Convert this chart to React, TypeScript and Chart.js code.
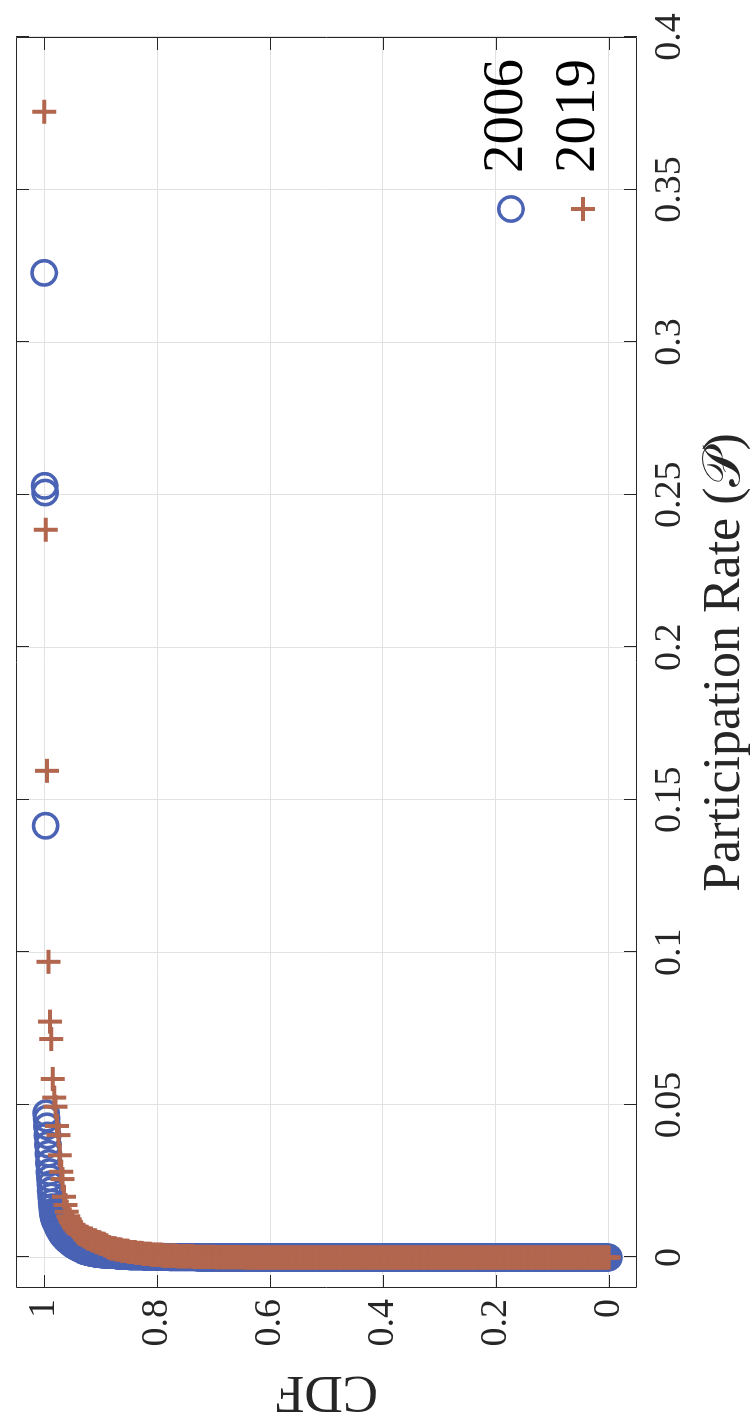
import React, { useEffect, useRef } from 'react';
import { Chart, registerables } from 'chart.js';

Chart.register(...registerables);

// ---- data -------------------------------------------------------------
const seriesNames = ['2006', '2019'];

// distinct participation rates (descending) and how many units share each
const rates2006 = [
  0.3227, 0.2529, 0.2507, 0.1415, 0.0473, 0.0455, 0.043, 0.04, 0.037, 0.034,
  0.031, 0.028, 0.026, 0.024, 0.022, 0.02, 0.018, 0.0165, 0.015,
  0.014, 0.0133, 0.0127, 0.012, 0.0113, 0.0106, 0.0099, 0.0093, 0.0088,
  0.0082, 0.0077, 0.0072, 0.0067, 0.0062, 0.0057,
  0.0052, 0.0047, 0.0042, 0.0037, 0.0033, 0.0029, 0.0025,
  0.0021, 0.0018, 0.0015, 0.0012, 0.001,
  0.0008, 0.0006, 0.0004, 0.0002, 0.0001, 0,
];
const counts2006 = [
  1, 1, 1, 1, 1, 1, 1, 1, 1, 1,
  1, 1, 1, 1, 1, 1, 1, 1, 1,
  1, 1, 2, 2, 2, 2, 2, 2, 2,
  2, 2, 3, 3, 3, 4,
  4, 4, 5, 5, 5, 5, 5,
  7, 8, 10, 12, 14,
  20, 25, 35, 50, 60, 874,
];

const rates2019 = [
  0.3755, 0.2385, 0.1595, 0.0969, 0.0773, 0.0716, 0.0585, 0.0524, 0.0494, 0.0431,
  0.0401, 0.0335, 0.0281, 0.0257, 0.0199, 0.0172,
  0.015, 0.0135, 0.0125, 0.0116, 0.0108, 0.01, 0.0094, 0.0088, 0.0083, 0.0078, 0.0073,
  0.0068, 0.0062, 0.0056, 0.005, 0.0045, 0.004, 0.0034,
  0.003, 0.0026, 0.0022, 0.0018, 0.0015, 0.0012,
  0.0009, 0.0006, 0.0004, 0.0002, 0.0001, 0,
];
const counts2019 = [
  1, 1, 1, 1, 1, 1, 1, 1, 1, 1,
  1, 1, 1, 1, 1, 1,
  1, 1, 1, 1, 1, 1, 1, 1, 1, 2, 2,
  2, 3, 3, 3, 3, 2, 2,
  4, 4, 5, 5, 5, 6,
  8, 10, 12, 15, 20, 259,
];

const rateTicks = [0, 0.05, 0.1, 0.15, 0.2, 0.25, 0.3, 0.35, 0.4];
const rateTickLabels = ['0', '0.05', '0.1', '0.15', '0.2', '0.25', '0.3', '0.35', '0.4'];
const cdfTicks = [0, 0.2, 0.4, 0.6, 0.8, 1];
const cdfTickLabels = ['0', '0.2', '0.4', '0.6', '0.8', '1'];

// ---- style --------------------------------------------------------------
const BLUE = '#4A63B4';
const RED = '#B2664E';
const INK = '#262626';
const GRID = '#e2e2e2';
const FONT = "'Liberation Serif', 'Times New Roman', serif";
const CW = 1418;
const CH = 754;

function buildEcdf(rates: number[], counts: number[]) {
  const obs: number[] = [];
  rates.forEach((r, i) => {
    for (let c = 0; c < counts[i]; c++) obs.push(r);
  });
  obs.sort((a, b) => a - b);
  const n = obs.length;
  return obs.map((r, i) => ({ x: r, y: i / (n - 1) }));
}

const framePlugin = {
  id: 'frame',
  beforeDatasetsDraw(chart: any) {
    const { ctx, chartArea: a, scales } = chart;
    ctx.save();
    ctx.strokeStyle = INK;
    ctx.lineWidth = 1;
    ctx.beginPath();
    ctx.rect(a.left + 0.5, a.top + 0.5, a.right - a.left - 1, a.bottom - a.top - 1);
    const tl = 13;
    rateTicks.forEach((v) => {
      const px = Math.round(scales.x.getPixelForValue(v)) + 0.5;
      ctx.moveTo(px, a.bottom);
      ctx.lineTo(px, a.bottom - tl);
      ctx.moveTo(px, a.top);
      ctx.lineTo(px, a.top + tl);
    });
    cdfTicks.forEach((v) => {
      const py = Math.round(scales.y.getPixelForValue(v)) + 0.5;
      ctx.moveTo(a.left, py);
      ctx.lineTo(a.left + tl, py);
      ctx.moveTo(a.right, py);
      ctx.lineTo(a.right - tl, py);
    });
    ctx.stroke();
    ctx.restore();
  },
  afterDatasetsDraw(chart: any) {
    const { ctx, chartArea: a } = chart;
    ctx.save();
    const mx = a.right - 172;
    const tx = a.right - 136;
    const rows = [a.bottom - 126, a.bottom - 54];
    // 2006 marker
    ctx.strokeStyle = BLUE;
    ctx.lineWidth = 3.5;
    ctx.beginPath();
    ctx.arc(mx, rows[0], 12.2, 0, Math.PI * 2);
    ctx.stroke();
    // 2019 marker
    ctx.strokeStyle = RED;
    ctx.lineWidth = 4;
    ctx.beginPath();
    ctx.moveTo(mx - 12, rows[1]);
    ctx.lineTo(mx + 12, rows[1]);
    ctx.moveTo(mx, rows[1] - 12);
    ctx.lineTo(mx, rows[1] + 12);
    ctx.stroke();
    ctx.fillStyle = '#000';
    ctx.font = `57px ${FONT}`;
    ctx.textAlign = 'left';
    ctx.textBaseline = 'middle';
    ctx.fillText(seriesNames[0], tx, rows[0] - 4);
    ctx.fillText(seriesNames[1], tx, rows[1] - 4);
    ctx.restore();
  },
};

export default function App() {
  const ref = useRef<HTMLCanvasElement | null>(null);

  useEffect(() => {
    if (!ref.current) return;
    const chart = new Chart(ref.current, {
      type: 'scatter',
      data: {
        datasets: [
          {
            label: seriesNames[0],
            data: buildEcdf(rates2006, counts2006),
            pointStyle: 'circle',
            pointRadius: 12.2,
            pointBorderWidth: 3.5,
            pointBorderColor: BLUE,
            pointBackgroundColor: 'rgba(0,0,0,0)',
            showLine: false,
            order: 2,
          },
          {
            label: seriesNames[1],
            data: buildEcdf(rates2019, counts2019),
            pointStyle: 'cross',
            pointRadius: 12,
            pointBorderWidth: 4,
            pointBorderColor: RED,
            pointBackgroundColor: RED,
            showLine: false,
            order: 1,
          },
        ],
      },
      options: {
        animation: false,
        responsive: false,
        devicePixelRatio: 1,
        events: [],
        layout: { padding: { top: 12, right: 37, left: 0, bottom: 0 } },
        plugins: { legend: { display: false }, tooltip: { enabled: false } },
        scales: {
          x: {
            type: 'linear',
            position: 'bottom',
            min: -0.01,
            max: 0.4,
            afterBuildTicks: (s: any) => {
              s.ticks = rateTicks.map((v) => ({ value: v }));
            },
            afterFit: (s: any) => {
              s.height = 117;
              s.paddingLeft = 0;
              s.paddingRight = 0;
            },
            grid: { color: GRID, lineWidth: 1, drawTicks: false },
            border: { display: false },
            ticks: {
              callback: (_v: any, i: number) => rateTickLabels[i],
              font: { family: FONT, size: 38 },
              color: INK,
              padding: 10,
              maxRotation: 0,
              autoSkip: false,
            },
            title: {
              display: true,
              text: 'Participation Rate (\u{1D4AB})',
              font: { family: FONT, size: 52, lineHeight: 1.1 },
              color: INK,
              padding: { top: 0, bottom: 0 },
            },
          },
          y: {
            type: 'linear',
            position: 'left',
            min: -0.05,
            max: 1.05,
            afterBuildTicks: (s: any) => {
              s.ticks = cdfTicks.map((v) => ({ value: v }));
            },
            afterFit: (s: any) => {
              s.width = 130;
              s.paddingTop = 0;
              s.paddingBottom = 0;
            },
            grid: { color: GRID, lineWidth: 1, drawTicks: false },
            border: { display: false },
            ticks: {
              callback: (_v: any, i: number) => cdfTickLabels[i],
              font: { family: FONT, size: 38 },
              color: INK,
              padding: 11,
              autoSkip: false,
            },
            title: {
              display: true,
              text: 'CDF',
              font: { family: FONT, size: 53, lineHeight: 1 },
              color: INK,
              padding: { top: 1, bottom: 0 },
            },
          },
        },
      },
      plugins: [framePlugin],
    } as any);
    return () => chart.destroy();
  }, []);

  return (
    <div style={{ position: 'absolute', left: 0, top: 0, width: CH, height: CW, overflow: 'hidden', background: '#fff' }}>
      <div
        style={{
          position: 'absolute',
          left: 0,
          top: 0,
          width: CW,
          height: CH,
          transformOrigin: '0 0',
          transform: `translate(0px, ${CW}px) rotate(-90deg)`,
        }}
      >
        <canvas ref={ref} width={CW} height={CH} style={{ width: CW, height: CH, display: 'block' }} />
      </div>
    </div>
  );
}
